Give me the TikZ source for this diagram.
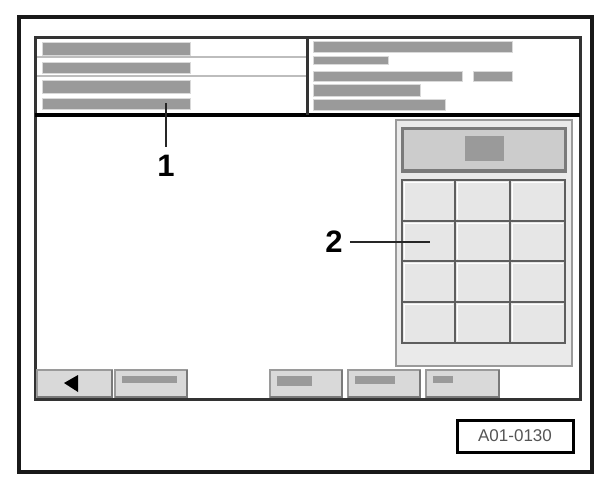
\documentclass[tikz,border=0pt]{standalone}
\usepackage{fontspec}
\setmainfont{Liberation Sans}
\definecolor{bargray}{HTML}{9A9A9A}
\definecolor{rowline}{HTML}{BDBDBD}
\definecolor{btnfill}{HTML}{D9D9D9}
\definecolor{btnedge}{HTML}{9A9A9A}
\definecolor{btnshadow}{HTML}{7A7A7A}
\definecolor{panelfill}{HTML}{EAEAEA}
\definecolor{cellfill}{HTML}{E6E6E6}
\definecolor{gridline}{HTML}{5E5E5E}
\definecolor{dispfill}{HTML}{CCCCCC}
\definecolor{dispedge}{HTML}{7A7A7A}
\definecolor{codegray}{HTML}{555555}
\tikzset{
  outerframe/.style={draw=black!90, line width=3.5pt},
  screenframe/.style={draw=black!80, line width=3pt},
  bar/.style={fill=bargray, draw=white!85!black, line width=0.8pt},
  rowsep/.style={draw=rowline, line width=1.8pt},
  btn/.style={fill=btnfill, draw=btnedge, line width=1.5pt},
  btnshade/.style={draw=btnshadow, line width=2pt},
  cell/.style={fill=cellfill, draw=gridline, line width=2pt},
  callout/.style={font=\bfseries\fontsize{31}{31}\selectfont, inner sep=0pt},
  leader/.style={draw=black!85, line width=1.8pt},
}
\begin{document}
\begin{tikzpicture}[x=1pt,y=-1pt]
\useasboundingbox (0,0) rectangle (604,488);
% outer frame
\draw[outerframe] (19,17) rectangle (592,472);
% header row separators (left)
\draw[rowsep] (36,57) -- (307,57);
\draw[rowsep] (36,76) -- (307,76);
% left header bars
\fill[bar] (42,42) rectangle (190,55);
\fill[bar] (42,62) rectangle (190,73);
\fill[bar] (42,80) rectangle (190,93);
\fill[bar] (42,98) rectangle (190,109);
% right header bars
\fill[bar] (313,41) rectangle (512,52);
\fill[bar] (313,56) rectangle (388,64);
\fill[bar] (313,71) rectangle (462,81);
\fill[bar] (473,71) rectangle (512,81);
\fill[bar] (313,84) rectangle (420,96);
\fill[bar] (313,99) rectangle (445,110);
% screen frame
\draw[screenframe] (35,37) rectangle (580,399);
\draw[draw=black, line width=3.5pt] (35,115) -- (580,115);
\draw[screenframe] (307,37) -- (307,115);
% keypad panel
\draw[fill=panelfill, draw=btnedge, line width=2.2pt] (396,120) rectangle (572,366);
\draw[fill=dispfill, draw=dispedge, line width=3pt] (402,128) rectangle (565,171);
\draw[dispedge, line width=2.5pt] (402,170) -- (565,170);
\fill[bargray] (465,136) rectangle (504,161);
% keypad cells
\foreach \xa/\xb in {402/455,455/510,510/565}{
  \foreach \ya/\yb in {180/221,221/261,261/302,302/343}{
    \draw[cell] (\xa,\ya) rectangle (\xb,\yb);
    \draw[white, line width=1pt] (\xa+2.5,\yb-2.5) -- (\xa+2.5,\ya+2.5) -- (\xb-2.5,\ya+2.5);
  }
}
% bottom buttons
\foreach \xa/\xb in {37/112,115/187,270/342,348/420,426/499}{
  \draw[btn] (\xa,370) rectangle (\xb,397);
  \draw[btnshade] (\xa,397) -- (\xb,397) -- (\xb,370);
}
\fill[black] (64,383) -- (78,375) -- (78,392) -- cycle;
\fill[bargray] (122,376) rectangle (177,383);
\fill[bargray] (277,376) rectangle (312,386);
\fill[bargray] (355,376) rectangle (395,384);
\fill[bargray] (433,376) rectangle (453,383);
% callouts
\coordinate (t1) at (166,103);
\node[callout] (c1) at (166,166) {1};
\node[callout] (c2) at (334,242) {2};
\coordinate (t2) at (430,242);
\draw[leader] (t1) -- (c1.north |- 0,147);
\draw[leader] (c2.east) ++(7,0) coordinate (c2s) -- (t2);
% figure code
\node[draw=black, line width=3pt, minimum width=116pt, minimum height=32pt, inner sep=0pt,
      text=codegray, font=\fontsize{17}{17}\selectfont] (code) at (515,436) {A01-0130};
\end{tikzpicture}
\end{document}
